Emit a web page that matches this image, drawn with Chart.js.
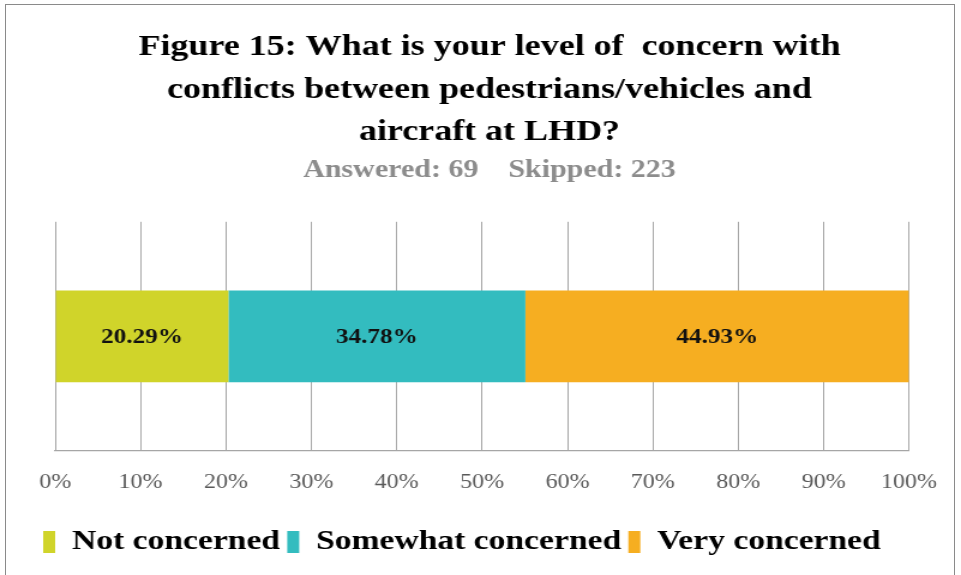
<!DOCTYPE html>
<html>
<head>
<meta charset="utf-8">
<script src="https://cdn.jsdelivr.net/npm/chart.js@4.4.0/dist/chart.umd.min.js"></script>
<style>
  html, body { margin: 0; padding: 0; background: #fff; }
  #wrap { position: relative; width: 961px; height: 575px; }
  /* the original figure is a bit wider than its fonts: draw at 801 wide, show at 961 */
  #chart { width: 961px; height: 575px; }
  #frame { position: absolute; left: 5px; top: 4px; width: 948px; height: 580px;
           border: 1.5px solid #8a8a8a; pointer-events: none; }
</style>
</head>
<body>
<div id="wrap">
  <canvas id="chart" width="801" height="575" style="width:961px;height:575px"></canvas>
  <div id="frame"></div>
</div>
<script>
// data
var categories  = [''];
var seriesNames = ['Not concerned', 'Somewhat concerned', 'Very concerned'];
var notConcerned      = [20.29];
var somewhatConcerned = [34.78];
var veryConcerned     = [44.93];
var tickValues = [0, 10, 20, 30, 40, 50, 60, 70, 80, 90, 100];
var colors = ['#d0d42a', '#33bcbf', '#f6ae21'];

var SERIF = "'Liberation Serif', 'DejaVu Serif', serif";

// writes the percentage in the middle of each segment
var barLabels = {
    id: 'barLabels',
    afterDatasetsDraw: function(chart) {
        var ctx = chart.ctx;
        ctx.save();
        ctx.font = 'bold 21px ' + SERIF;
        ctx.fillStyle = '#111';
        ctx.textAlign = 'center';
        ctx.textBaseline = 'middle';
        chart.data.datasets.forEach(function(ds, i) {
            chart.getDatasetMeta(i).data.forEach(function(bar, j) {
                var p = bar.getCenterPoint();
                ctx.fillText(ds.data[j].toFixed(2) + '%', p.x, p.y + 1);
            });
        });
        ctx.restore();
    }
};

var allSeries = [notConcerned, somewhatConcerned, veryConcerned];

// empty spacer axes, only keep the plot away from the edges
function spacer(pos, w) {
    return {
        position: pos,
        grid: { display: false },
        border: { display: false },
        ticks: { display: false },
        afterFit: function(axis) { axis.width = w; }
    };
}

var yLeft = spacer('left', 16);
yLeft.stacked = true;

new Chart(document.getElementById('chart').getContext('2d'), {
    type: 'bar',
    data: {
        labels: categories,
        datasets: allSeries.map(function(d, i) {
            return {
                label: seriesNames[i],
                data: d,
                backgroundColor: colors[i],
                barPercentage: 0.4,
                categoryPercentage: 1
            };
        })
    },
    options: {
        indexAxis: 'y',
        responsive: false,
        animation: false,
        devicePixelRatio: 1,
        layout: { padding: { left: 30, right: 15, top: 26, bottom: 9 } },
        scales: {
            x: {
                stacked: true,
                min: 0,
                max: 100,
                afterBuildTicks: function(axis) {
                    axis.ticks = tickValues.map(function(v) { return { value: v }; });
                },
                afterFit: function(axis) { axis.height += 7; },
                grid: { color: '#a6a6a6', lineWidth: 1, drawTicks: false },
                border: { color: '#a6a6a6', width: 1.2 },
                ticks: {
                    padding: 20,
                    color: '#595959',
                    font: { family: SERIF, size: 20 },
                    callback: function(v) { return v + '%'; }
                }
            },
            y: yLeft,
            y2: spacer('right', 27)
        },
        plugins: {
            title: {
                display: true,
                text: ['Figure 15: What is your level of  concern with',
                       'conflicts between pedestrians/vehicles and',
                       'aircraft at LHD?'],
                color: '#000',
                font: { family: SERIF, size: 30, weight: 'bold', lineHeight: 1.42 },
                padding: { top: 0, bottom: 2 }
            },
            subtitle: {
                display: true,
                text: 'Answered: 69    Skipped: 223',
                color: '#8c8c8c',
                font: { family: SERIF, size: 25, weight: 'bold' },
                padding: { top: 0, bottom: 36 }
            },
            legend: {
                position: 'bottom',
                align: 'start',
                labels: {
                    color: '#000',
                    boxWidth: 10,
                    boxHeight: 22,
                    padding: 6,
                    font: { family: SERIF, size: 28, weight: 'bold' }
                }
            },
            tooltip: { enabled: false }
        }
    },
    plugins: [barLabels]
});
</script>
</body>
</html>
